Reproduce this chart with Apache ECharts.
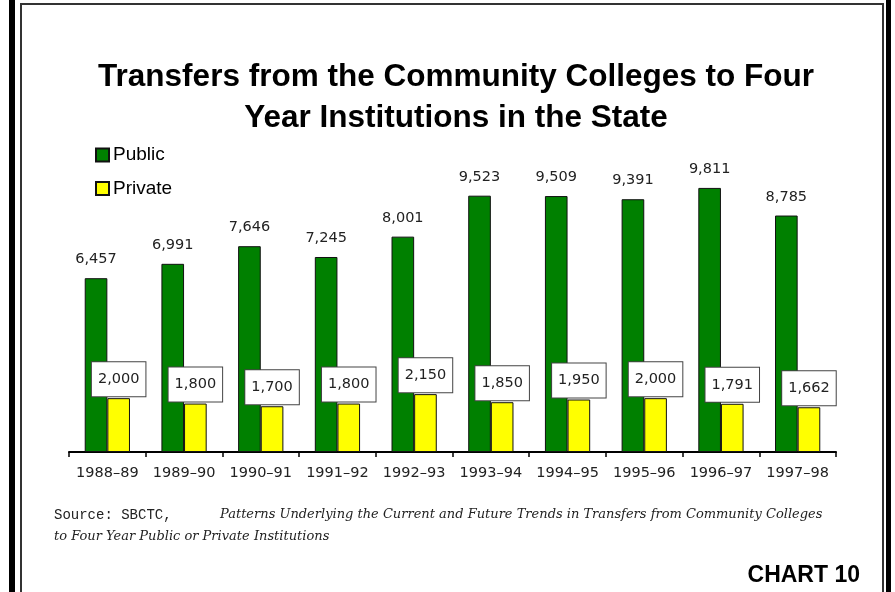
<!DOCTYPE html>
<html>
<head>
<meta charset="utf-8">
<script src="https://cdn.jsdelivr.net/npm/echarts@6/dist/echarts.min.js"></script>
<style>
html,body{margin:0;padding:0;background:#fff;}
#chart{width:895px;height:592px;}
</style>
</head>
<body>
<div id="chart"></div>
<script>
var categories = ['1988–89','1989–90','1990–91','1991–92','1992–93','1993–94','1994–95','1995–96','1996–97','1997–98'];
var publicValues = [6457, 6991, 7646, 7245, 8001, 9523, 9509, 9391, 9811, 8785];
var privateValues = [2000, 1800, 1700, 1800, 2150, 1850, 1950, 2000, 1791, 1662];
var seriesNames = ['Public', 'Private'];
var titleLines = ['Transfers from the Community Colleges to Four', 'Year Institutions in the State'];

function fmt(v){ return v.toLocaleString('en-US'); }

var chart = echarts.init(document.getElementById('chart'), null, {renderer:'canvas'});
chart.setOption({
  animation:false,
  backgroundColor:'#ffffff',
  title:{
    text:titleLines.join('\n'),
    left:456, top:57, textAlign:'center', padding:0,
    textStyle:{fontFamily:'Liberation Sans, Arial, sans-serif', fontWeight:'bold', fontSize:31.5, lineHeight:41, color:'#000'}
  },
  legend:{
    orient:'vertical', left:95, top:145, padding:0, itemWidth:13, itemHeight:13, itemGap:13.5,
    icon:'rect',
    textStyle:{fontFamily:'Liberation Sans, Arial, sans-serif', fontSize:19, lineHeight:20, color:'#000', padding:[0,0,0,-1]},
    data:seriesNames
  },
  grid:{left:69, right:59, top:129, bottom:140, containLabel:false},
  xAxis:{
    type:'category', data:categories,
    axisLine:{lineStyle:{color:'#000', width:2}},
    axisTick:{show:true, interval:0, length:5, lineStyle:{color:'#000', width:1.5}},
    axisLabel:{interval:0, hideOverlap:false, margin:14, fontFamily:'DejaVu Sans, Verdana, sans-serif', fontSize:14.5, color:'#222'}
  },
  yAxis:{type:'value', min:0, max:12000, show:false, splitLine:{show:false}},
  series:[
    {
      name:seriesNames[0], type:'bar', data:publicValues, barGap:'0%', barCategoryGap:'41%',
      itemStyle:{color:'#008000', borderColor:'#111', borderWidth:1},
      label:{show:true, position:'top', distance:11, formatter:function(p){return fmt(p.value);},
        fontFamily:'DejaVu Sans, Verdana, sans-serif', fontSize:14.5, color:'#222'}
    },
    {
      name:seriesNames[1], type:'bar', data:privateValues,
      itemStyle:{color:'#ffff00', borderColor:'#111', borderWidth:1},
      label:{show:true, position:'top', distance:2, formatter:function(p){return fmt(p.value);},
        fontFamily:'DejaVu Sans, Verdana, sans-serif', fontSize:14.5, lineHeight:16, color:'#222',
        backgroundColor:'#fff', borderColor:'#444', borderWidth:1, padding:[9,6,9,6]}
    }
  ],
  graphic:[
    {type:'rect', shape:{x:9, y:0, width:6, height:592}, style:{fill:'#000'}, silent:true},
    {type:'rect', shape:{x:20, y:3, width:2, height:589}, style:{fill:'#333'}, silent:true},
    {type:'rect', shape:{x:20, y:3, width:864, height:2}, style:{fill:'#333'}, silent:true},
    {type:'rect', shape:{x:882, y:3, width:2, height:589}, style:{fill:'#333'}, silent:true},
    {type:'rect', shape:{x:886, y:0, width:5, height:592}, style:{fill:'#000'}, silent:true},
    {type:'text', left:54, top:508, style:{
      text:'{n|Source: SBCTC, }{i|Patterns Underlying the Current and Future Trends in Transfers from Community Colleges}',
      rich:{
        n:{fontFamily:'Liberation Mono, Courier New, monospace', fontSize:14, fill:'#222', width:166},
        i:{fontFamily:'DejaVu Serif, serif', fontStyle:'italic', fontSize:13, fill:'#222'}
      }}},
    {type:'text', left:54, top:530, style:{
      text:'{i|to Four Year Public or Private Institutions}',
      rich:{i:{fontFamily:'DejaVu Serif, serif', fontStyle:'italic', fontSize:13, fill:'#222'}}}},
    {type:'text', right:35, top:564, style:{text:'CHART 10', fontFamily:'Liberation Sans, Arial, sans-serif', fontWeight:'bold', fontSize:23, fill:'#000'}}
  ]
});
</script>
</body>
</html>
